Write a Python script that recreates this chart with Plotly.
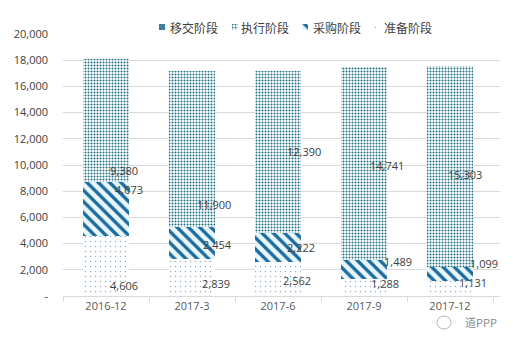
import plotly.graph_objects as go

categories = ["2016-12", "2017-3", "2017-6", "2017-9", "2017-12"]
prep = [4606, 2839, 2562, 1288, 1131]        # 准备阶段
procure = [4073, 2454, 2222, 1489, 1099]     # 采购阶段
execute = [9380, 11900, 12390, 14741, 15303] # 执行阶段
transfer = [0, 0, 0, 0, 0]                   # 移交阶段
names = ["准备阶段", "采购阶段", "执行阶段", "移交阶段"]

ytick_vals = [0, 2000, 4000, 6000, 8000, 10000, 12000, 14000, 16000, 18000, 20000]
ytick_text = ["-", "2,000", "4,000", "6,000", "8,000", "10,000", "12,000",
              "14,000", "16,000", "18,000", "20,000"]

# label placement offsets (pixels) relative to segment base
prep_dx = [18, 24, 19, 21, 23]
prep_dy = [11, 13, 16, 13, 14]
proc_dx = [23, 25, 23, 34, 34]
proc_dy = [46, 14, 15, 18, 18]
exe_dx = [18, 22, 26, 23, 15]
exe_dy = [12, 22, 82, 94, 92]

# styles per series (order: 准备, 采购, 执行, 移交)
patterns = [
    dict(shape=".", fgcolor="#8fb0c8", bgcolor="white", fgopacity=1, size=5, solidity=0.07),
    dict(shape="\\", fgcolor="#1b6b9c", bgcolor="#e9f7fb", fgopacity=1, size=8, solidity=0.42),
    dict(shape=".", fgcolor="#1f6f86", bgcolor="white", fgopacity=1, size=3, solidity=0.35),
    dict(shape="x", fgcolor="#1b5e86", bgcolor="#5fa0b8", fgopacity=1, size=3, solidity=0.5),
]
series = [prep, procure, execute, transfer]

# manual legend layout (pixel positions in the page)
leg_icon_x = [375.5, 304.5, 234.5, 162]
leg_text_x = [382, 311, 239, 168]
L, R, T, B = 63, 13, 20, 47
W, H = 513, 343
plot_w = W - L - R
plot_h = H - T - B
main_top = (296 - 34)

fig = go.Figure()
for k in range(4):
    fig.add_trace(go.Bar(
        x=categories, y=series[k], name=names[k], showlegend=False,
        marker=dict(color=patterns[k]["bgcolor"], line=dict(width=0),
                    pattern=patterns[k]),
        xaxis="x", yaxis="y",
    ))
# legend icons drawn as tiny patterned bars on a hidden pixel-scaled axis
for k in range(4):
    fig.add_trace(go.Bar(
        x=[leg_icon_x[k]], y=[-6], base=[30], width=[6], showlegend=False,
        marker=dict(color=patterns[k]["bgcolor"], line=dict(width=0),
                    pattern=patterns[k]),
        xaxis="x2", yaxis="y2", hoverinfo="skip",
    ))

annotations = []
fmt = lambda v: f"{v:,}"
for i, c in enumerate(categories):
    annotations.append(dict(x=c, y=0, text=fmt(prep[i]), showarrow=False,
                            xshift=prep_dx[i], yshift=prep_dy[i],
                            xanchor="center", yanchor="middle"))
    annotations.append(dict(x=c, y=prep[i], text=fmt(procure[i]), showarrow=False,
                            xshift=proc_dx[i], yshift=proc_dy[i],
                            xanchor="center", yanchor="middle"))
    annotations.append(dict(x=c, y=prep[i] + procure[i], text=fmt(execute[i]),
                            showarrow=False, xshift=exe_dx[i], yshift=exe_dy[i],
                            xanchor="center", yanchor="middle"))
for a in annotations:
    a["font"] = dict(size=11, color="#404040", family="Open Sans, Noto Sans, sans-serif")

for k in range(4):
    annotations.append(dict(xref="x2", yref="y2", x=leg_text_x[k], y=27,
                            xanchor="left", yanchor="middle", text=names[k],
                            showarrow=False,
                            font=dict(size=12, color="#404040",
                                      family="Noto Sans CJK SC, sans-serif")))

annotations.append(dict(xref="paper", yref="paper", x=(481 - L) / plot_w,
                        y=(296 - 322) / plot_h,
                        xanchor="center", yanchor="middle",
                        text="道PPP", showarrow=False,
                        font=dict(size=11, color="#8a8a8a",
                                  family="Noto Sans CJK SC, sans-serif")))

shapes = [dict(type="circle", xref="paper", yref="paper",
               x0=(437 - L) / plot_w, x1=(451 - L) / plot_w,
               y0=(296 - 329) / plot_h, y1=(296 - 316) / plot_h,
               line=dict(color="#b5b5b5", width=1))]

fig.update_layout(
    width=W, height=H,
    margin=dict(l=L, r=R, t=T, b=B),
    paper_bgcolor="white", plot_bgcolor="white",
    barmode="stack", bargap=0.46,
    font=dict(family="Noto Sans CJK SC, Open Sans, sans-serif", color="#404040"),
    showlegend=False,
    xaxis=dict(type="category", showline=True, linecolor="#d9d9d9", linewidth=1,
               ticks="outside", ticklen=5, tickcolor="#d9d9d9",
               tickfont=dict(size=11, color="#595959",
                             family="Open Sans, Noto Sans, sans-serif"),
               showgrid=False, tickson="boundaries"),
    yaxis=dict(domain=[0, main_top / plot_h], range=[0, 20000],
               tickvals=ytick_vals, ticktext=ytick_text,
               showgrid=True, gridcolor="#d9d9d9", gridwidth=1,
               zeroline=False, showline=False, ticks="", ticklabelstandoff=14,
               tickfont=dict(size=11, color="#404040",
                             family="Open Sans, Noto Sans, sans-serif")),
    xaxis2=dict(domain=[0, 1], range=[L, W - R], anchor="y2", visible=False,
                fixedrange=True),
    yaxis2=dict(domain=[main_top / plot_h, 1], range=[34, 20], anchor="x2",
                visible=False, fixedrange=True),
    annotations=annotations,
    shapes=shapes,
)

fig.write_html("out.html")
